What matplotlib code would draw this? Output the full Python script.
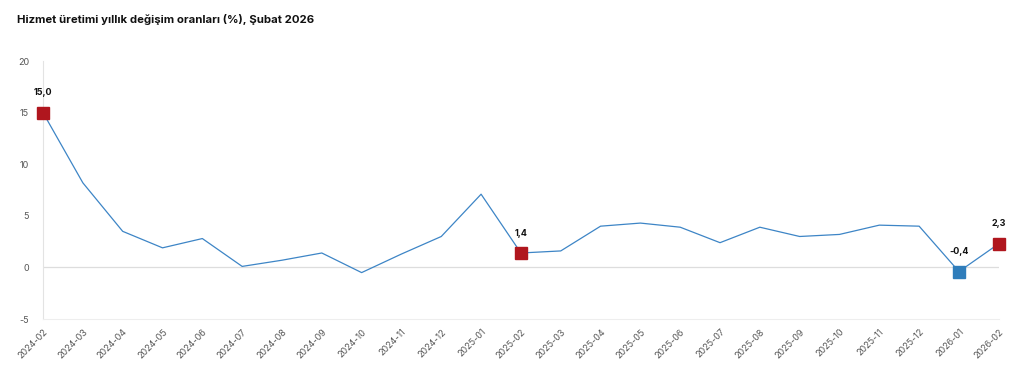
import matplotlib.pyplot as plt

months = ['2024-02', '2024-03', '2024-04', '2024-05', '2024-06', '2024-07',
          '2024-08', '2024-09', '2024-10', '2024-11', '2024-12', '2025-01',
          '2025-02', '2025-03', '2025-04', '2025-05', '2025-06', '2025-07',
          '2025-08', '2025-09', '2025-10', '2025-11', '2025-12', '2026-01',
          '2026-02']
values = [15.0, 8.2, 3.5, 1.9, 2.8, 0.1, 0.7, 1.4, -0.5, 1.3, 3.0, 7.1,
          1.4, 1.6, 4.0, 4.3, 3.9, 2.4, 3.9, 3.0, 3.2, 4.1, 4.0, -0.4, 2.3]
highlight_red = ['2024-02', '2025-02', '2026-02']
highlight_blue = ['2026-01']
yticks = [-5, 0, 5, 10, 15, 20]


def main():
    plt.rcParams['font.family'] = ['Inter', 'DejaVu Sans']
    fig = plt.figure(figsize=(10.2, 3.7), dpi=100)
    ax = fig.add_axes([0.0422, 0.1378, 0.937, 0.697])

    x = list(range(len(months)))
    ax.plot(x, values, color='#3d85c6', linewidth=0.9, zorder=2)

    for i, m in enumerate(months):
        if m in highlight_red or m in highlight_blue:
            c = '#b0161e' if m in highlight_red else '#2f7dbb'
            ax.plot(i, values[i], marker='s', markersize=8.5, color=c,
                    linestyle='none', zorder=3, clip_on=False)
            ax.annotate(f'{values[i]:.1f}'.replace('.', ','), (i, values[i]),
                        xytext=(0, 11), textcoords='offset points',
                        ha='center', va='bottom', fontsize=6.5,
                        fontweight='bold', color='#111111')

    ax.set_xlim(0, len(months) - 1)
    ax.set_ylim(-5, 20)
    ax.set_yticks(yticks)
    ax.set_yticklabels([str(t) for t in yticks])
    ax.set_xticks(x)
    ax.set_xticklabels(months, rotation=45, ha='right', rotation_mode='anchor')
    ax.tick_params(axis='both', length=0, labelsize=6.5, labelcolor='#555555')
    ax.tick_params(axis='y', pad=10)
    ax.tick_params(axis='x', pad=6)

    ax.axhline(0, color='#dddddd', linewidth=0.9, zorder=1)
    for s in ['top', 'right']:
        ax.spines[s].set_visible(False)
    ax.spines['left'].set_color('#e3e3e3')
    ax.spines['bottom'].set_color('#eeeeee')
    ax.spines['left'].set_linewidth(0.8)
    ax.spines['bottom'].set_linewidth(0.8)

    fig.text(0.0167, 0.948, 'Hizmet üretimi yıllık değişim oranları (%), Şubat 2026',
             fontsize=8.2, fontweight='bold', color='#111111', va='center')

    fig.savefig('out.png', dpi=100)


if __name__ == '__main__':
    main()
